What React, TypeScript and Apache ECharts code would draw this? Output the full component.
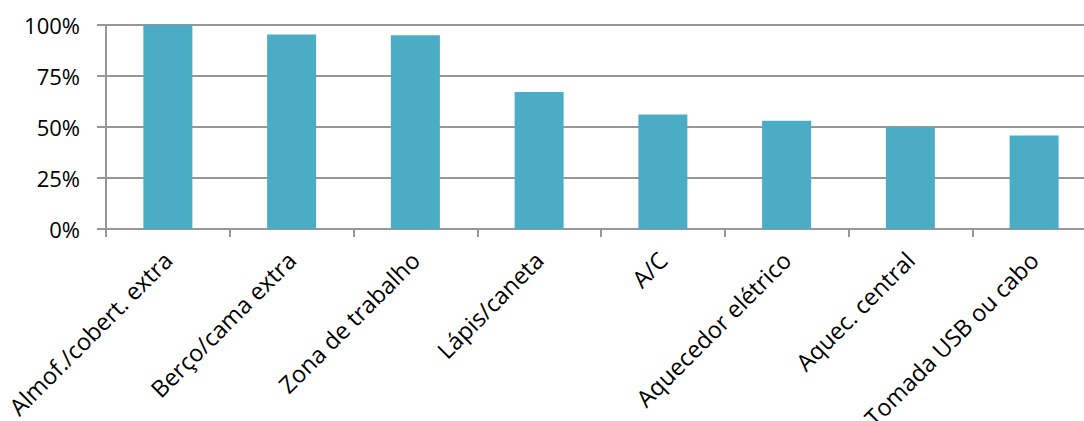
import React, { useEffect, useRef } from "react";
import * as echarts from "echarts";

// Share of rooms offering each amenity (%)
const categories: string[] = [
  "Almof./cobert. extra",
  "Berço/cama extra",
  "Zona de trabalho",
  "Lápis/caneta",
  "A/C",
  "Aquecedor elétrico",
  "Aquec. central",
  "Tomada USB ou cabo",
];
const shares: number[] = [100, 95.4, 95.0, 67.2, 56.1, 53.1, 49.7, 45.8];
const yTicks: number[] = [0, 25, 50, 75, 100];

const FONT = "'Open Sans', sans-serif";
const GRID_COLOR = "#979797";

export default function App() {
  const ref = useRef<HTMLDivElement>(null);

  useEffect(() => {
    if (!ref.current) return;
    const chart = echarts.init(ref.current, undefined, { renderer: "svg" });
    chart.setOption({
      animation: false,
      // plot area runs a little past the right edge of the visible frame
      grid: {
        left: 106,
        top: 25,
        width: 990,
        height: 204,
        containLabel: false,
        outerBoundsMode: "none",
      },
      xAxis: {
        type: "category",
        data: categories,
        axisLine: { show: true, lineStyle: { color: GRID_COLOR, width: 2 } },
        axisTick: { show: true, alignWithLabel: false, length: 8, lineStyle: { color: GRID_COLOR, width: 2 } },
        axisLabel: {
          interval: 0,
          rotate: 45,
          margin: 27,
          color: "#000",
          fontFamily: FONT,
          fontSize: 23.5,
        },
      },
      yAxis: {
        type: "value",
        min: yTicks[0],
        max: yTicks[yTicks.length - 1],
        interval: 25,
        axisLine: { show: true, lineStyle: { color: GRID_COLOR, width: 2 } },
        axisTick: { show: true, length: 9, lineStyle: { color: GRID_COLOR, width: 2 } },
        splitLine: { show: true, lineStyle: { color: GRID_COLOR, width: 2 } },
        axisLabel: {
          margin: 26,
          color: "#000",
          fontFamily: FONT,
          fontSize: 22,
          formatter: (v: number) => `${v}%`,
        },
      },
      series: [
        {
          type: "bar",
          data: shares,
          barWidth: 49,
          itemStyle: { color: "#4BACC6" },
        },
      ],
    });
    return () => chart.dispose();
  }, []);

  return (
    <div style={{ position: "absolute", left: 0, top: 0, width: 1084, height: 421, background: "#fff", overflow: "hidden" }}>
      <div ref={ref} style={{ width: 1110, height: 421 }} />
    </div>
  );
}
